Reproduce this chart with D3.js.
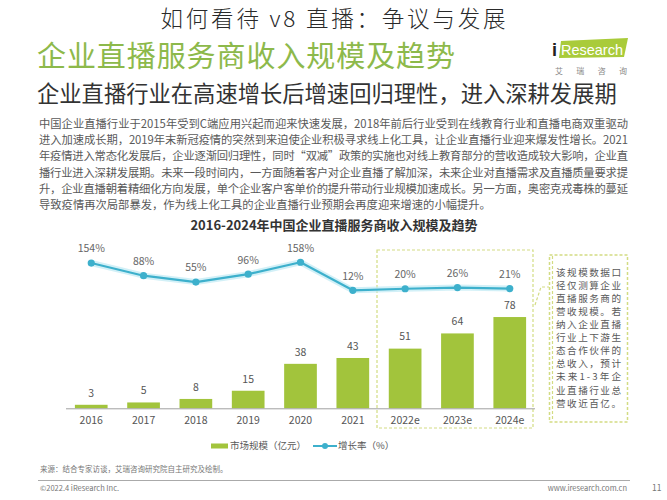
<!DOCTYPE html>
<html><head><meta charset="utf-8">
<script src="https://cdn.jsdelivr.net/npm/d3@7/dist/d3.min.js"></script>
<style>
html,body{margin:0;padding:0;background:#fff;}
svg{display:block;font-family:"Noto Sans CJK SC","Noto Sans",sans-serif;}
</style></head>
<body><svg id="c" width="667" height="500"></svg>
<script>
const categories = ["2016","2017","2018","2019","2020","2021","2022e","2023e","2024e"];
const marketSize = [3,5,8,15,38,43,51,64,78];
const growthRate = [154,88,55,96,158,12,20,26,21];
const forecastCats = ["2022e","2023e","2024e"];
const paragraphLines = [
"中国企业直播行业于2015年受到C端应用兴起而迎来快速发展，2018年前后行业受到在线教育行业和直播电商双重驱动",
"进入加速成长期，2019年末新冠疫情的突然到来迫使企业积极寻求线上化工具，让企业直播行业迎来爆发性增长。2021",
"年疫情进入常态化发展后，企业逐渐回归理性，同时“双减”政策的实施也对线上教育部分的营收造成较大影响，企业直",
"播行业进入深耕发展期。未来一段时间内，一方面随着客户对企业直播了解加深，未来企业对直播需求及直播质量要求提",
"升，企业直播朝着精细化方向发展，单个企业客户客单价的提升带动行业规模加速成长。另一方面，奥密克戎毒株的蔓延",
"导致疫情再次局部暴发，作为线上化工具的企业直播行业预期会再度迎来增速的小幅提升。"
];
const noteLines = ["该规模数据口","径仅测算企业","直播服务商的","营收规模。若","纳入企业直播","行业上下游生","态合作伙伴的","总收入，预计","未来1-3年企","业直播行业总","营收近百亿。"];

const GREEN = "#a2c43c", TEAL = "#3db0cc", GRAY = "#595959", DASH = "#d3dc83";
const svg = d3.select("#c");

// headings
svg.append("text").attr("x",333).attr("y",20.5).attr("text-anchor","middle")
  .attr("dominant-baseline","middle").attr("font-size",22.5).attr("font-weight",300).attr("fill","#2a2a2a")
  .attr("textLength",345).attr("lengthAdjust","spacing")
  .text("如何看待 v8 直播：争议与发展");
svg.append("text").attr("x",37).attr("y",59).attr("dominant-baseline","middle")
  .attr("font-size",29).attr("fill","#8db94b").attr("textLength",418).attr("lengthAdjust","spacing")
  .text("企业直播服务商收入规模及趋势");
svg.append("text").attr("x",37).attr("y",95.5).attr("dominant-baseline","middle")
  .attr("font-size",22.3).attr("fill","#333").text("企业直播行业在高速增长后增速回归理性，进入深耕发展期");

// logo
svg.append("polygon").attr("points","561,41 628,38 624,57 559,58").attr("fill","#a9cb3a");
svg.append("text").attr("x",552).attr("y",56).attr("font-size",18).attr("font-weight","bold").attr("fill","#222").attr("font-family","Liberation Sans, sans-serif").text("i");
svg.append("text").attr("x",561).attr("y",55).attr("font-size",15).attr("fill","#fff").attr("font-family","Liberation Sans, sans-serif")
  .attr("textLength",62).attr("lengthAdjust","spacingAndGlyphs").text("Research");
svg.append("text").attr("x",555).attr("y",72).attr("dominant-baseline","middle").attr("font-size",8).attr("fill","#888")
  .attr("textLength",72).attr("lengthAdjust","spacing").text("艾瑞咨询");

// paragraph
svg.append("g").selectAll("text").data(paragraphLines).join("text")
  .attr("x",39).attr("y",(d,i)=>125+i*16.2).attr("dominant-baseline","middle")
  .attr("font-size",11.3).attr("fill",GRAY)
  .each(function(d,i){ if(i<paragraphLines.length-1) d3.select(this).attr("textLength",589).attr("lengthAdjust","spacing"); })
  .text(d=>d);

// chart title
svg.append("text").attr("x",334).attr("y",226).attr("text-anchor","middle").attr("dominant-baseline","middle")
  .attr("font-size",13).attr("font-weight","bold").attr("fill","#333").text("2016-2024年中国企业直播服务商收入规模及趋势");

// scales
const x = d3.scaleBand().domain(categories).range([66,535]).paddingInner(0.375).paddingOuter(0.17);
const y = d3.scaleLinear().domain([0,100]).range([408.3,291.3]);
const yL = d3.scaleLinear().domain([0,200]).range([292.6,254.2]);
const cx = d => x(d)+x.bandwidth()/2;

// forecast dashed box
svg.append("rect").attr("x",377).attr("y",250).attr("width",533-377).attr("height",428-250)
  .attr("fill","none").attr("stroke",DASH).attr("stroke-width",1.2).attr("stroke-dasharray","3,2");

// bars
svg.append("g").selectAll("rect").data(marketSize).join("rect")
  .attr("x",(d,i)=>x(categories[i])).attr("width",x.bandwidth())
  .attr("y",d=>y(d)).attr("height",d=>y(0)-y(d)).attr("fill",GREEN);
svg.append("g").selectAll("text").data(marketSize).join("text")
  .attr("x",(d,i)=>cx(categories[i])).attr("y",d=>y(d)-11).attr("text-anchor","middle")
  .attr("dominant-baseline","middle").attr("font-size",10.5).attr("fill","#555").text(d=>d);

// axis
const ax = svg.append("g").attr("transform",`translate(0,${y(0)})`)
  .call(d3.axisBottom(x).tickSize(0).tickPadding(8));
ax.select(".domain").attr("stroke","#a0a0a0").attr("d","M66,0.5H535");
ax.selectAll("text").attr("font-size",10.5).attr("fill","#555").attr("font-family","\"Noto Sans CJK SC\",sans-serif");

// line
const line = d3.line().x((d,i)=>cx(categories[i])).y(d=>yL(d));
svg.append("path").datum(growthRate).attr("d",line).attr("fill","none").attr("stroke","#bfe9f3").attr("stroke-width",6).attr("stroke-linejoin","round").attr("opacity",0.7);
svg.append("path").datum(growthRate).attr("d",line).attr("fill","none").attr("stroke",TEAL).attr("stroke-width",2.2).attr("stroke-linejoin","round");
svg.append("g").selectAll("circle").data(growthRate).join("circle")
  .attr("cx",(d,i)=>cx(categories[i])).attr("cy",d=>yL(d)).attr("r",3.6).attr("fill",TEAL);
svg.append("g").selectAll("text").data(growthRate).join("text")
  .attr("x",(d,i)=>cx(categories[i])).attr("y",d=>yL(d)-13.5).attr("text-anchor","middle")
  .attr("dominant-baseline","middle").attr("font-size",10.5).attr("fill","#666").text(d=>d+"%");

// note box
svg.append("path").attr("d","M535,305L541,287H549").attr("fill","none").attr("stroke",DASH).attr("stroke-width",1.2).attr("stroke-dasharray","3,2");
svg.append("rect").attr("x",549.5).attr("y",255).attr("width",78).attr("height",167)
  .attr("fill","none").attr("stroke",DASH).attr("stroke-width",1.5).attr("stroke-dasharray","3,2");
svg.append("line").attr("x1",552.5).attr("x2",552.5).attr("y1",256).attr("y2",421).attr("stroke",DASH).attr("stroke-width",1.2).attr("stroke-dasharray","3,2");
svg.append("g").selectAll("text").data(noteLines).join("text")
  .attr("x",556).attr("y",(d,i)=>273+i*13.1).attr("dominant-baseline","middle")
  .attr("font-size",9.6).attr("fill",GRAY)
  .attr("textLength",65).attr("lengthAdjust","spacing").text(d=>d);

// legend
svg.append("rect").attr("x",211).attr("y",443.5).attr("width",17).attr("height",5).attr("fill",GREEN);
svg.append("text").attr("x",230).attr("y",446).attr("dominant-baseline","middle").attr("font-size",9.5).attr("fill",GRAY).text("市场规模（亿元）");
svg.append("line").attr("x1",313).attr("x2",337).attr("y1",446).attr("y2",446).attr("stroke",TEAL).attr("stroke-width",2);
svg.append("circle").attr("cx",325).attr("cy",446).attr("r",3).attr("fill",TEAL);
svg.append("text").attr("x",338).attr("y",446).attr("dominant-baseline","middle").attr("font-size",9.5).attr("fill",GRAY).text("增长率（%）");

// footer
svg.append("text").attr("x",40).attr("y",470).attr("dominant-baseline","middle").attr("font-size",7.5).attr("fill","#777").text("来源：结合专家访谈，艾瑞咨询研究院自主研究及绘制。");
svg.append("line").attr("x1",38).attr("x2",630).attr("y1",480.5).attr("y2",480.5).attr("stroke","#aaa").attr("stroke-width",1);
svg.append("text").attr("x",40).attr("y",489).attr("dominant-baseline","middle").attr("font-size",7.5).attr("fill","#777").text("©2022.4 iResearch Inc.");
svg.append("text").attr("x",627).attr("y",489).attr("text-anchor","end").attr("dominant-baseline","middle").attr("font-size",7.5).attr("fill","#777").text("www.iresearch.com.cn");
svg.append("text").attr("x",652).attr("y",489).attr("dominant-baseline","middle").attr("font-size",8.5).attr("fill","#777").text("11");
</script></body></html>
